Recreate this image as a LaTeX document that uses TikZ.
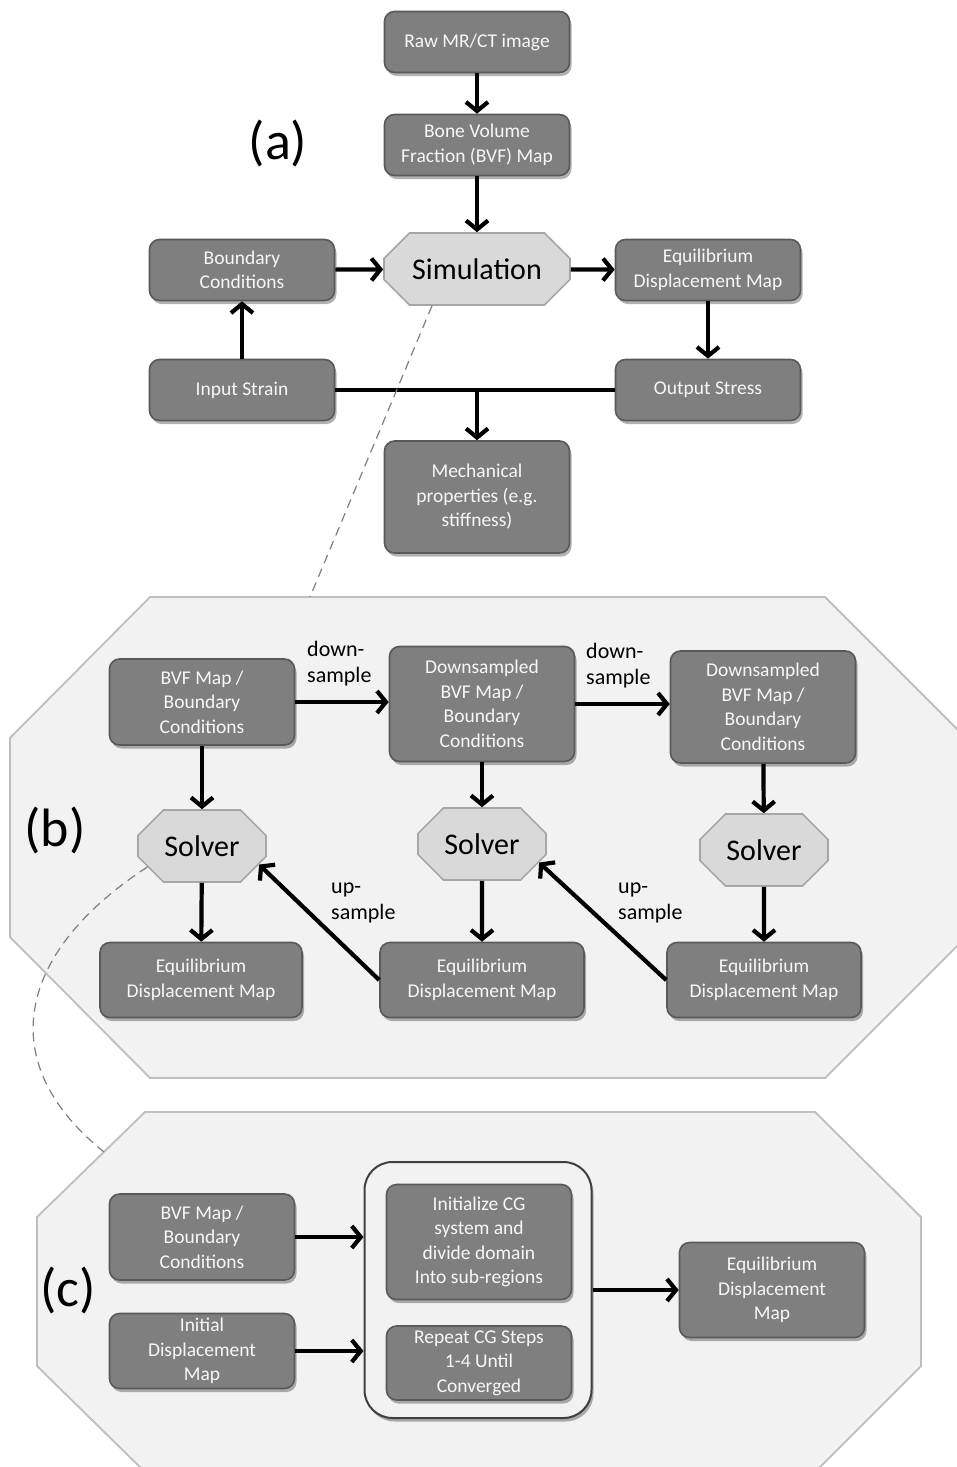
\documentclass[tikz,border=0pt]{standalone}
\usepackage{fontspec}
\setmainfont{Carlito}
\usetikzlibrary{arrows.meta,shapes.misc,shadows}
\definecolor{boxfill}{HTML}{7F7F7F}
\definecolor{boxline}{HTML}{595959}
\definecolor{octfill}{HTML}{D9D9D9}
\definecolor{octline}{HTML}{A6A6A6}
\definecolor{panelfill}{HTML}{F2F2F2}
\definecolor{panelline}{HTML}{BFBFBF}
\definecolor{contline}{HTML}{404040}
\definecolor{boxtext}{HTML}{F7F7F7}
\definecolor{dashcol}{HTML}{7F7F7F}
\newcommand\boxfnt{\fontsize{19.5}{24.5}\selectfont}
\newcommand\octfnt{\fontsize{30}{34}\selectfont}
\newcommand\lblfnt{\fontsize{22}{26}\selectfont}
\newcommand\panfnt{\fontsize{54}{60}\selectfont}
\tikzset{
  shad/.style={drop shadow={shadow xshift=2pt, shadow yshift=-3.5pt, fill=black, opacity=0.3}},
  dbox/.style={draw=boxline, line width=1.6pt, fill=boxfill, rounded corners=10pt,
    text=boxtext, align=center, font=\boxfnt, minimum width=185pt, minimum height=61pt,
    inner sep=2pt, shad},
  octbox/.style={chamfered rectangle, chamfered rectangle xsep=15pt,
    chamfered rectangle ysep=15pt, draw=octline, fill=octfill, line width=1.6pt,
    font=\octfnt, inner sep=0pt, minimum height=72pt},
  panel/.style={draw=panelline, fill=panelfill, line width=1.8pt},
  arr/.style={line width=4.2pt, draw=black, -{Straight Barb[length=9pt,width=22pt]}},
  plainline/.style={line width=4.2pt, draw=black},
  dashline/.style={draw=dashcol, line width=1.2pt, dash pattern=on 9pt off 6pt},
  lbl/.style={font=\lblfnt, align=left, inner sep=0pt, text=black},
  pan/.style={font=\panfnt, inner sep=0pt, text=black}
}
\begin{document}
\begin{tikzpicture}[x=1pt,y=-1pt]
\useasboundingbox (0,0) rectangle (957,1467);
\fill[white] (0,0) rectangle (957,1467);
\clip (0,0) rectangle (957,1467);

% ---------- panels ----------
\draw[panel] (150,597) -- (825,597) -- (970,742) -- (970,933) -- (825,1078)
  -- (150,1078) -- (10,937) -- (10,738) -- cycle;
\draw[panel] (145,1112) -- (815,1112) -- (921,1217) -- (921,1366) -- (815,1472)
  -- (145,1472) -- (37,1366) -- (37,1217) -- cycle;
\coordinate (btop) at (310,597);
\coordinate (cedge) at (104,1152);

% ---------- panel (a) ----------
\node[pan] (la) at (278,143) {(a)};
\node[dbox] (raw) at (477,42) {Raw MR/CT image};
\node[dbox] (bvf) at (477,145) {Bone Volume\\Fraction (BVF) Map};
\node[octbox, minimum width=186pt] (sim) at (477,269) {Simulation};
\node[dbox] (bc) at (242,270) {Boundary\\Conditions};
\node[dbox] (edm) at (708,270) {Equilibrium\\Displacement Map};
\node[dbox] (instr) at (242,390) {Input Strain};
\node[dbox] (outstr) at (708,390) {Output Stress};
\node[dbox, minimum height=112pt] (mech) at (477,497) {Mechanical\\properties (e.g.\\stiffness)};

\draw[arr] (raw) -- (bvf);
\draw[arr] (bvf) -- (sim);
\draw[arr] (bc) -- (sim);
\draw[arr] (sim) -- (edm);
\draw[arr] (edm) -- (outstr);
\draw[arr] (instr) -- (bc);
\draw[plainline] (instr.east) -- (outstr.west);
\draw[arr] (mech.north |- instr.east) -- (mech.north);

% ---------- panel (b) ----------
\node[pan] (lb) at (55,830) {(b)};
\node[dbox, minimum height=86pt] (bvf1) at (202,702) {BVF Map /\\Boundary\\Conditions};
\node[dbox, minimum height=115pt] (ds2) at (482,704) {Downsampled\\BVF Map /\\Boundary\\Conditions};
\node[dbox, minimum height=112pt] (ds3) at (763,707) {Downsampled\\BVF Map /\\Boundary\\Conditions};
\node[octbox, minimum width=128pt] (sol1) at (202,846) {Solver};
\node[octbox, minimum width=128pt] (sol2) at (482,844) {Solver};
\node[octbox, minimum width=128pt] (sol3) at (764,850) {Solver};
\node[dbox, minimum width=202pt, minimum height=75pt] (edm1) at (201,980) {Equilibrium\\Displacement Map};
\node[dbox, minimum width=204pt, minimum height=75pt] (edm2) at (482,980) {Equilibrium\\Displacement Map};
\node[dbox, minimum width=194pt, minimum height=75pt] (edm3) at (764,980) {Equilibrium\\Displacement Map};

\draw[arr] (bvf1.east) -- (bvf1.east -| ds2.west);
\draw[arr] (ds2.east) -- (ds2.east -| ds3.west);
\draw[arr] (bvf1) -- (sol1);
\draw[arr] (ds2) -- (sol2);
\draw[arr] (ds3) -- (sol3);
\draw[arr] (sol1) -- (edm1);
\draw[arr] (sol2) -- (edm2);
\draw[arr] (sol3) -- (edm3);
\draw[arr] (edm2.west) -- (sol1.-18);
\draw[arr] (edm3.west) -- (sol2.-18);

\node[lbl, anchor=west] (d1) at (307,664) {down-\\sample};
\node[lbl, anchor=west] (d2) at (586,666) {down-\\sample};
\node[lbl, anchor=west] (u1) at (331,903) {up-\\sample};
\node[lbl, anchor=west] (u2) at (618,903) {up-\\sample};

% ---------- panel (c) ----------
\node[pan] (lc) at (68,1290) {(c)};
\node[dbox, minimum height=86pt] (cbvf) at (202,1237) {BVF Map /\\Boundary\\Conditions};
\node[dbox, minimum height=75pt] (cinit) at (202,1351) {Initial\\Displacement\\Map};
\node[draw=contline, line width=2pt, fill=panelfill, rounded corners=28pt,
  minimum width=227pt, minimum height=256pt, shad] (cont) at (478,1290) {};
\node[dbox, minimum height=115pt] (ccg) at (479,1242) {Initialize CG\\system and\\divide domain\\Into sub-regions};
\node[dbox, minimum height=74pt] (crep) at (479,1363) {Repeat CG Steps\\1-4 Until\\Converged};
\node[dbox, minimum height=95pt] (cedm) at (772,1290) {Equilibrium\\Displacement\\Map};

\draw[arr] (cbvf.east) -- (cbvf.east -| cont.west);
\draw[arr] (cinit.east) -- (cinit.east -| cont.west);
\draw[arr] (cont.east) -- (cedm.west);

% ---------- zoom connectors ----------
\draw[dashline] ([xshift=-45pt]sim.south) -- (btop);
\draw[dashline] (sol1.201) .. controls (20,950) and (-10,1060) .. (cedge);
\end{tikzpicture}
\end{document}
